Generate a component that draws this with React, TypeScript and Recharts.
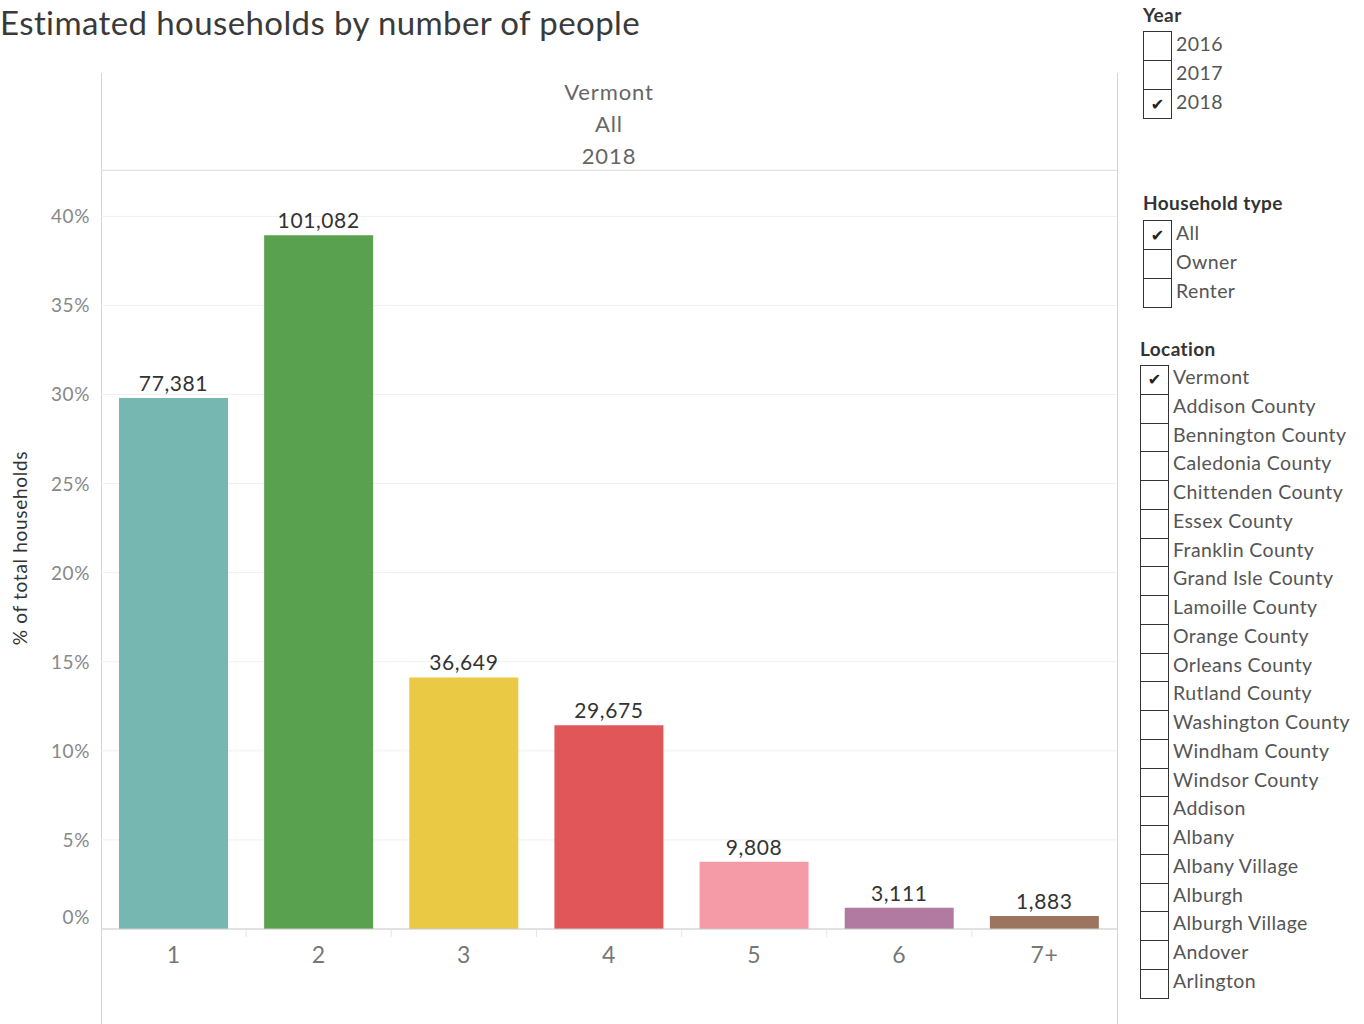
import React from "react";
import { Bar, BarChart, CartesianGrid, Cell, LabelList, XAxis, YAxis } from "recharts";

// household size categories and estimated household counts (Vermont, All, 2018)
const sizes = ["1", "2", "3", "4", "5", "6", "7+"];
const households = [77381, 101082, 36649, 29675, 9808, 3111, 1883];
const barColors = ["#76B7B2", "#59A14F", "#EAC945", "#E15759", "#F59BA7", "#B07AA1", "#9C755F"];
const yTicks = [0, 0.05, 0.1, 0.15, 0.2, 0.25, 0.3, 0.35, 0.4];

const years = ["2016", "2017", "2018"];
const householdTypes = ["All", "Owner", "Renter"];
const locations = [
    "Vermont", "Addison County", "Bennington County", "Caledonia County", "Chittenden County",
    "Essex County", "Franklin County", "Grand Isle County", "Lamoille County", "Orange County",
    "Orleans County", "Rutland County", "Washington County", "Windham County", "Windsor County",
    "Addison", "Albany", "Albany Village", "Alburgh", "Alburgh Village", "Andover", "Arlington",
];

const total = households.reduce((a, b) => a + b, 0);
const data = sizes.map((s, i) => ({ size: s, count: households[i], share: households[i] / total }));

const FONT = "Lato, 'Open Sans', sans-serif";
const LINE = "#d4d4d4";
const PLOT_LEFT = 101;
const PLOT_RIGHT = 1117;
const BAND = (PLOT_RIGHT - PLOT_LEFT) / sizes.length;

function XTick(props: any) {
    const { x, y, payload, index } = props;
    return (
        <g>
            {index > 0 && <line x1={x - BAND / 2} x2={x - BAND / 2} y1={y} y2={y + 8} stroke="#e6e6e6" />}
            <text x={x} y={y + 34} textAnchor="middle" fill="#777" fontSize={23} fontFamily={FONT} letterSpacing={0.5}>
                {payload.value}
            </text>
        </g>
    );
}

function YTick(props: any) {
    const { x, y, payload } = props;
    const shift = payload.value === 0 ? -12 : 0;
    return (
        <text x={x} y={y + shift + 7} textAnchor="end" fill="#888" fontSize={19} fontFamily={FONT} letterSpacing={0.6}>
            {`${Math.round(payload.value * 100)}%`}
        </text>
    );
}

function FilterList({ title, items, checked, left, titleTop, boxTop, rowH }: any) {
    return (
        <>
            <div style={{ position: "absolute", left, top: titleTop, fontSize: 19, fontWeight: 700, color: "#333", lineHeight: "22px", letterSpacing: 0.4, whiteSpace: "nowrap" }}>
                {title}
            </div>
            {items.map((it: string, i: number) => (
                <React.Fragment key={it}>
                    <div
                        style={{
                            position: "absolute",
                            left,
                            top: boxTop + i * rowH,
                            width: 29,
                            height: rowH + 1,
                            boxSizing: "border-box",
                            border: "1.5px solid #333",
                            display: "flex",
                            alignItems: "center",
                            justifyContent: "center",
                            fontFamily: "'DejaVu Sans', sans-serif",
                            fontSize: 16,
                            color: "#222",
                        }}
                    >
                        {it === checked ? "✔" : ""}
                    </div>
                    <div
                        style={{
                            position: "absolute",
                            left: left + 33,
                            top: boxTop + i * rowH - 2,
                            height: rowH,
                            lineHeight: `${rowH}px`,
                            fontSize: 19.5,
                            letterSpacing: 0.4,
                            color: "#555",
                            whiteSpace: "nowrap",
                        }}
                    >
                        {it}
                    </div>
                </React.Fragment>
            ))}
        </>
    );
}

export default function App() {
    return (
        <div style={{ position: "absolute", left: 0, top: 0, width: 1364, height: 1024, background: "#fff", fontFamily: FONT, overflow: "hidden" }}>
            <div style={{ position: "absolute", left: 0, top: 2, fontSize: 33, lineHeight: "40px", letterSpacing: 0.4, color: "#3a3a3a", whiteSpace: "nowrap" }}>
                Estimated households by number of people
            </div>

            {/* pane borders and header */}
            <div style={{ position: "absolute", left: PLOT_LEFT, top: 73, width: 1, height: 951, background: LINE }} />
            <div style={{ position: "absolute", left: PLOT_RIGHT, top: 73, width: 1, height: 951, background: LINE }} />
            <div style={{ position: "absolute", left: PLOT_LEFT, top: 170, width: PLOT_RIGHT - PLOT_LEFT, height: 1, background: LINE }} />
            <div style={{ position: "absolute", left: PLOT_LEFT, top: 76, width: PLOT_RIGHT - PLOT_LEFT, textAlign: "center", color: "#666", fontSize: 22, letterSpacing: 0.9, lineHeight: "32px" }}>
                <div>Vermont</div>
                <div>All</div>
                <div>2018</div>
            </div>

            <div
                style={{
                    position: "absolute",
                    left: 19,
                    top: 548,
                    transform: "translate(-50%, -50%) rotate(-90deg)",
                    fontSize: 19,
                    letterSpacing: 0.7,
                    color: "#333",
                    whiteSpace: "nowrap",
                }}
            >
                % of total households
            </div>

            <div style={{ position: "absolute", left: 0, top: 0 }}>
                <BarChart width={1130} height={1024} data={data} margin={{ top: 170, right: 13, bottom: 0, left: 41 }}>
                    <CartesianGrid vertical={false} stroke="#f0f0f0" />
                    <XAxis
                        dataKey="size"
                        height={95}
                        tickLine={false}
                        tickSize={0}
                        tickMargin={0}
                        axisLine={{ stroke: "#cccccc" }}
                        tick={<XTick />}
                        interval={0}
                    />
                    <YAxis
                        width={60}
                        domain={[0, 0.426]}
                        ticks={yTicks}
                        axisLine={false}
                        tickLine={false}
                        tickSize={0}
                        tickMargin={11}
                        tick={<YTick />}
                        allowDataOverflow
                    />
                    <Bar dataKey="share" barSize={109} isAnimationActive={false}>
                        {data.map((d, i) => (
                            <Cell key={d.size} fill={barColors[i]} />
                        ))}
                        <LabelList
                            dataKey="count"
                            position="top"
                            offset={7}
                            fill="#333"
                            fontSize={21}
                            fontFamily={FONT}
                            letterSpacing={0.6}
                            formatter={(v: any) => Number(v).toLocaleString("en-US")}
                        />
                    </Bar>
                </BarChart>
            </div>

            <FilterList title="Year" items={years} checked="2018" left={1143} titleTop={4} boxTop={31} rowH={29} />
            <FilterList title="Household type" items={householdTypes} checked="All" left={1143} titleTop={192} boxTop={220} rowH={29} />
            <FilterList title="Location" items={locations} checked="Vermont" left={1140} titleTop={338} boxTop={365} rowH={28.75} />
        </div>
    );
}
